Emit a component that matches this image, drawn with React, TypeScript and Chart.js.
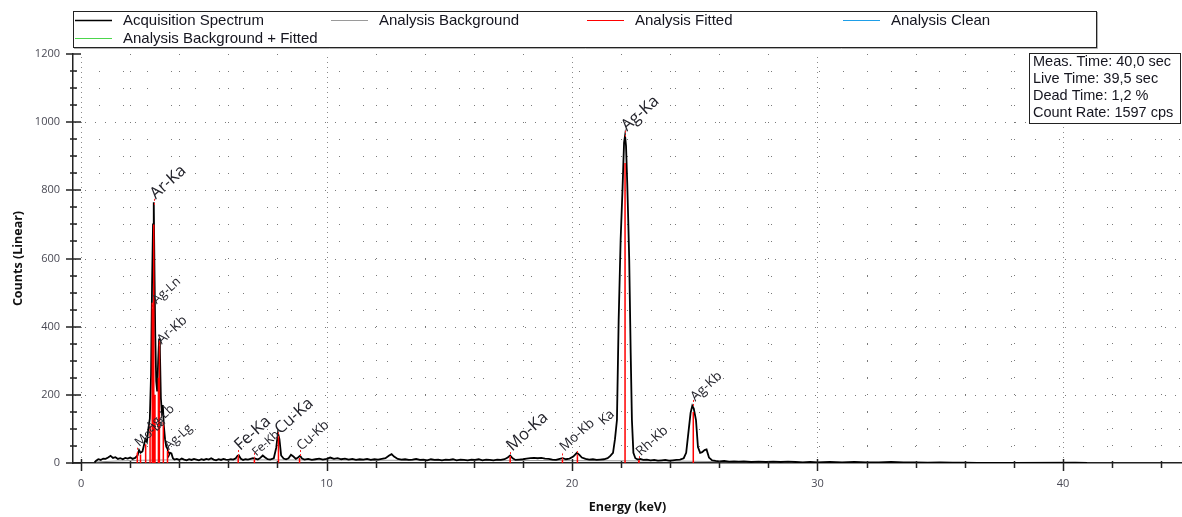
import React, { useEffect, useRef } from "react";
import { Chart, registerables } from "chart.js";

Chart.register(...registerables);

// ---- Data ----
const spectrum: [number, number][] = [
  [0.55, 2], [0.6, 6], [0.7, 11], [0.8, 9], [0.9, 13], [1.0, 12], [1.1, 16], [1.2, 21], [1.3, 15], [1.4, 17],
  [1.5, 12], [1.6, 14], [1.7, 11], [1.8, 15], [1.9, 13], [2.0, 16], [2.1, 12], [2.2, 15], [2.3, 22], [2.36, 38],
  [2.42, 30], [2.5, 34], [2.56, 52], [2.62, 70], [2.68, 62], [2.74, 100], [2.8, 130], [2.85, 260], [2.89, 520],
  [2.93, 700], [2.96, 765], [2.99, 560], [3.02, 380], [3.06, 240], [3.1, 210], [3.14, 300], [3.18, 365],
  [3.21, 330], [3.25, 190], [3.29, 150], [3.33, 170], [3.37, 110], [3.42, 70], [3.47, 48], [3.52, 42],
  [3.57, 22], [3.62, 30], [3.68, 28], [3.74, 14], [3.8, 10], [3.9, 12], [4.0, 9], [4.1, 13], [4.2, 10],
  [4.3, 8], [4.4, 11], [4.5, 9], [4.6, 12], [4.7, 10], [4.8, 8], [4.9, 11], [5.0, 9], [5.1, 12], [5.2, 10],
  [5.3, 14], [5.4, 10], [5.5, 8], [5.6, 11], [5.7, 9], [5.8, 12], [5.9, 10], [6.0, 9], [6.1, 11], [6.2, 10],
  [6.3, 14], [6.37, 21], [6.42, 23], [6.5, 13], [6.6, 9], [6.7, 11], [6.8, 10], [6.9, 12], [7.0, 14],
  [7.1, 13], [7.2, 10], [7.3, 15], [7.4, 22], [7.5, 16], [7.6, 11], [7.7, 10], [7.85, 14], [7.95, 45],
  [8.02, 88], [8.08, 70], [8.15, 22], [8.25, 13], [8.35, 11], [8.45, 14], [8.55, 24], [8.65, 19], [8.75, 12],
  [8.85, 17], [8.92, 21], [9.0, 13], [9.1, 10], [9.25, 12], [9.4, 9], [9.55, 11], [9.7, 13], [9.85, 10],
  [10.0, 12], [10.15, 16], [10.3, 12], [10.45, 14], [10.6, 11], [10.75, 13], [10.9, 10], [11.05, 12],
  [11.2, 9], [11.35, 11], [11.5, 10], [11.65, 12], [11.8, 9], [11.95, 11], [12.1, 10], [12.25, 12],
  [12.4, 14], [12.55, 22], [12.65, 26], [12.75, 19], [12.9, 12], [13.05, 10], [13.2, 11], [13.35, 9],
  [13.5, 10], [13.65, 12], [13.8, 9], [13.95, 10], [14.1, 8], [14.25, 11], [14.4, 9], [14.55, 10], [14.7, 8],
  [14.85, 10], [15.0, 9], [15.15, 11], [15.3, 8], [15.45, 10], [15.6, 9], [15.75, 8], [15.9, 10], [16.05, 9],
  [16.2, 11], [16.35, 8], [16.5, 10], [16.65, 9], [16.8, 8], [16.95, 10], [17.1, 9], [17.25, 11], [17.38, 16],
  [17.48, 22], [17.58, 14], [17.7, 9], [17.85, 10], [18.0, 11], [18.15, 13], [18.3, 14], [18.45, 15],
  [18.6, 14], [18.75, 15], [18.9, 13], [19.05, 12], [19.2, 10], [19.35, 9], [19.5, 12], [19.62, 14],
  [19.75, 11], [19.9, 13], [20.05, 19], [20.2, 30], [20.3, 24], [20.4, 16], [20.55, 12], [20.7, 10],
  [20.85, 11], [21.0, 9], [21.15, 10], [21.3, 11], [21.45, 14], [21.55, 20], [21.67, 30], [21.75, 70],
  [21.83, 126], [21.9, 420], [21.98, 654], [22.06, 810], [22.12, 940], [22.16, 960], [22.2, 930],
  [22.25, 820], [22.29, 713], [22.33, 596], [22.39, 323], [22.44, 126], [22.5, 30], [22.58, 14],
  [22.68, 10], [22.78, 12], [22.9, 9], [23.05, 10], [23.2, 8], [23.35, 9], [23.5, 7], [23.65, 8], [23.8, 9],
  [23.95, 7], [24.1, 8], [24.25, 9], [24.4, 10], [24.55, 14], [24.65, 30], [24.75, 95], [24.83, 147],
  [24.9, 168], [24.96, 160], [25.05, 126], [25.13, 47], [25.22, 30], [25.3, 32], [25.4, 38], [25.48, 40],
  [25.58, 16], [25.7, 8], [25.85, 6], [26.0, 5], [26.2, 6], [26.4, 4], [26.6, 5], [26.8, 4], [27.0, 5],
  [27.3, 3], [27.6, 4], [27.9, 3], [28.2, 4], [28.5, 3], [28.8, 4], [29.1, 3], [29.4, 2], [29.7, 3],
  [30.0, 2], [30.5, 3], [31.0, 2], [31.5, 3], [32.0, 2], [32.5, 2], [33.0, 3], [33.5, 2], [34.0, 2],
  [34.5, 1], [35.0, 2], [35.5, 1], [36.0, 1], [36.5, 0], [38.0, 0], [40.5, 1], [41.0, 0],
];

const backgroundKeV = [0.6, 1.5, 2.5, 3.5, 5, 8, 12, 16, 20, 24, 26, 30, 36, 41];
const backgroundCounts = [3, 6, 8, 9, 9, 9, 8, 8, 7, 6, 4, 2, 1, 0];

const fittedKeV = [2.29, 2.42, 2.63, 2.81, 2.9, 2.96, 3.01, 3.15, 3.19, 3.35, 3.52, 6.4, 7.06, 8.04, 8.9, 17.48, 19.61, 20.22, 22.16, 22.72, 24.94];
const fittedCounts = [30, 25, 55, 110, 470, 700, 200, 250, 355, 120, 35, 20, 10, 80, 15, 20, 10, 25, 880, 8, 150];

const peakNames = ["Ar-Ka", "Ag-Ln", "Ar-Kb", "Mo-La", "Ag-Lb", "Ag-Lg", "Fe-Ka", "Fe-Kb", "Cu-Ka", "Cu-Kb", "Mo-Ka", "Mo-Kb", "Ka", "Ag-Ka", "Rh-Kb", "Ag-Kb"];
const peakLabelKeV = [2.96, 3.0, 3.2, 2.29, 2.75, 3.5, 6.4, 7.06, 8.04, 8.9, 17.48, 19.61, 21.2, 22.16, 22.72, 24.94];
const peakLabelCounts = [775, 468, 350, 50, 95, 40, 38, 22, 86, 38, 36, 36, 112, 975, 22, 183];
const peakLabelSize = [16.5, 12.5, 13.5, 12.5, 12.5, 12.5, 16.5, 12, 16.5, 13.5, 16.5, 13.5, 13.5, 16.5, 13.5, 13.5];

const markerKeV = [2.29, 2.9, 2.96, 3.19, 3.52, 6.4, 7.06, 8.04, 8.9, 17.48, 19.61, 20.22, 22.16, 22.72, 24.94];
const markerCounts = [45, 470, 775, 360, 40, 38, 30, 90, 38, 32, 28, 35, 975, 20, 185];

const legendLabels = ["Acquisition Spectrum", "Analysis Background", "Analysis Fitted", "Analysis Clean", "Analysis Background + Fitted"];
const legendColors = ["#000000", "#9a9a9a", "#ff0000", "#1e9ee8", "#4cd64c"];

const infoLines = ["Meas. Time: 40,0 sec", "Live Time: 39,5 sec", "Dead Time: 1,2 %", "Count Rate: 1597 cps"];

const xMin = -0.33;
const xMax = 44.85;
const yMax = 1200;
const yMajor = 200;
const yMinor = 50;
const xMajor = 10;
const xMinor = 2;

const TICK_FONT = "'Open Sans', sans-serif";
const UI_FONT = "'Liberation Sans', Arial, sans-serif";

const gridPlugin = {
  id: "dotGrid",
  beforeDatasetsDraw(chart: any) {
    const { ctx, chartArea: a, scales } = chart;
    const x = scales.x, y = scales.y;
    ctx.save();
    ctx.beginPath();
    ctx.rect(a.left, a.top, a.right - a.left, a.bottom - a.top);
    ctx.clip();
    ctx.strokeStyle = "#7a7a7a";
    ctx.lineWidth = 1;
    for (let v = 0; v <= xMax; v += xMinor) {
      const major = v % xMajor === 0;
      const px = Math.round(x.getPixelForValue(v)) + 0.5;
      ctx.strokeStyle = major ? "#8a8a8a" : "#7a7a7a";
      ctx.setLineDash(major ? [1, 4] : [1, 16]);
      ctx.beginPath();
      ctx.moveTo(px, a.bottom);
      ctx.lineTo(px, a.top);
      ctx.stroke();
    }
    ctx.strokeStyle = "#7a7a7a";
    for (let v = yMinor; v < yMax; v += yMinor) {
      const major = v % yMajor === 0;
      const py = Math.round(y.getPixelForValue(v)) + 0.5;
      ctx.setLineDash(major ? [1, 9] : [1, 23]);
      ctx.beginPath();
      ctx.moveTo(a.left + 2, py);
      ctx.lineTo(a.right, py);
      ctx.stroke();
    }
    ctx.restore();
  },
};

const overlayPlugin = {
  id: "overlay",
  afterDraw(chart: any) {
    const { ctx, chartArea: a, scales } = chart;
    const x = scales.x, y = scales.y;
    ctx.save();

    // tick marks
    ctx.strokeStyle = "#222";
    ctx.lineWidth = 1.5;
    ctx.setLineDash([]);
    for (let v = 0; v <= yMax; v += yMinor) {
      const major = v % yMajor === 0;
      const py = Math.round(y.getPixelForValue(v));
      ctx.beginPath();
      ctx.moveTo(a.left - (major ? 7 : 3), py);
      ctx.lineTo(a.left + (major ? 8 : 4), py);
      ctx.stroke();
    }
    for (let v = 0; v <= xMax; v += xMinor) {
      const major = v % xMajor === 0;
      const px = Math.round(x.getPixelForValue(v)) + 0.5;
      ctx.beginPath();
      ctx.moveTo(px, a.bottom - (major ? 4 : 2));
      ctx.lineTo(px, a.bottom + (major ? 8 : 5));
      ctx.stroke();
    }

    // peak markers (red dotted)
    ctx.strokeStyle = "#ff2020";
    ctx.lineWidth = 1;
    ctx.setLineDash([2, 2]);
    for (let i = 0; i < markerKeV.length; i++) {
      const px = Math.round(x.getPixelForValue(markerKeV[i])) + 0.5;
      const py = y.getPixelForValue(markerCounts[i]);
      ctx.beginPath();
      ctx.moveTo(px, py);
      ctx.lineTo(px, py + 8);
      ctx.stroke();
    }
    ctx.setLineDash([]);

    // peak labels
    ctx.fillStyle = "#23232b";
    ctx.textAlign = "left";
    ctx.textBaseline = "alphabetic";
    for (let i = 0; i < peakNames.length; i++) {
      const px = x.getPixelForValue(peakLabelKeV[i]) + 2;
      const py = y.getPixelForValue(peakLabelCounts[i]) + 1;
      ctx.save();
      ctx.translate(px, py);
      ctx.rotate((-42 * Math.PI) / 180);
      ctx.font = `${peakLabelSize[i]}px ${TICK_FONT}`;
      ctx.fillText(peakNames[i], 0, 0);
      ctx.restore();
    }

    // legend box
    ctx.fillStyle = "#ffffff";
    ctx.fillRect(73, 11, 1023, 36);
    ctx.strokeStyle = "#b0b0b0";
    ctx.lineWidth = 1;
    ctx.beginPath();
    ctx.moveTo(74, 48.5);
    ctx.lineTo(1097.5, 48.5);
    ctx.lineTo(1097.5, 12);
    ctx.stroke();
    ctx.strokeStyle = "#222";
    ctx.strokeRect(73.5, 11.5, 1023, 36);
    const colX = [75, 331, 587, 843, 75];
    const rowY = [20, 20, 20, 20, 38];
    ctx.font = `15px ${UI_FONT}`;
    ctx.textBaseline = "middle";
    for (let i = 0; i < legendLabels.length; i++) {
      const lx = colX[i];
      const ly = rowY[i];
      ctx.strokeStyle = legendColors[i];
      ctx.lineWidth = i === 0 ? 1.5 : 1.2;
      ctx.beginPath();
      ctx.moveTo(lx, ly + 0.5);
      ctx.lineTo(lx + 37, ly + 0.5);
      ctx.stroke();
      ctx.fillStyle = "#15151f";
      ctx.fillText(legendLabels[i], lx + 48, ly + 1);
    }

    // info box
    ctx.fillStyle = "#ffffff";
    ctx.fillRect(1029, 53, 151, 70);
    ctx.strokeStyle = "#222";
    ctx.lineWidth = 1;
    ctx.strokeRect(1029.5, 53.5, 151, 70);
    ctx.fillStyle = "#15151f";
    ctx.font = `14.5px ${UI_FONT}`;
    infoLines.forEach((t, i) => ctx.fillText(t, 1033, 62 + i * 17));

    ctx.restore();
  },
};

export default function App() {
  const ref = useRef<HTMLCanvasElement | null>(null);

  useEffect(() => {
    const canvas = ref.current;
    if (!canvas) return;

    const fittedData: any[] = [];
    fittedKeV.forEach((k, i) => {
      fittedData.push({ x: k, y: 0 }, { x: k, y: fittedCounts[i] }, { x: k, y: null });
    });

    const chart = new Chart(canvas, {
      type: "line",
      data: {
        datasets: [
          {
            label: legendLabels[2],
            data: fittedData,
            borderColor: legendColors[2],
            borderWidth: 1.5,
            pointRadius: 0,
            spanGaps: false,
            order: 0,
          },
          {
            label: legendLabels[0],
            data: spectrum.map(([k, c]) => ({ x: k, y: c })),
            borderColor: legendColors[0],
            borderWidth: 1.8,
            pointRadius: 0,
            order: 1,
          },
          {
            label: legendLabels[1],
            data: backgroundKeV.map((k, i) => ({ x: k, y: backgroundCounts[i] })),
            borderColor: legendColors[1],
            borderWidth: 1,
            pointRadius: 0,
            order: 2,
          },
          { label: legendLabels[3], data: [], borderColor: legendColors[3], pointRadius: 0, order: 3 },
          { label: legendLabels[4], data: [], borderColor: legendColors[4], pointRadius: 0, order: 4 },
        ],
      },
      options: {
        animation: false,
        responsive: false,
        events: [],
        layout: { padding: { top: 54, left: 0, right: 0, bottom: 0 } },
        plugins: { legend: { display: false }, tooltip: { enabled: false } },
        scales: {
          x: {
            type: "linear",
            min: xMin,
            max: xMax,
            afterFit: (s: any) => {
              s.height = 54;
            },
            grid: { display: false, drawTicks: false },
            border: { display: true, color: "#222", width: 1.5 },
            ticks: {
              stepSize: xMajor,
              includeBounds: false,
              padding: 14,
              maxRotation: 0,
              autoSkip: false,
              color: "#4a4a55",
              font: { family: TICK_FONT, size: 11 },
              callback: (v: any) => String(v),
            },
            title: {
              display: true,
              text: "Energy (keV)",
              color: "#111",
              font: { family: TICK_FONT, size: 12.5, weight: "bold" },
              padding: { top: 0, bottom: 2.5 },
            },
          },
          y: {
            type: "linear",
            min: 0,
            max: yMax,
            afterFit: (s: any) => {
              s.width = 73;
            },
            grid: { display: false, drawTicks: false },
            border: { display: true, color: "#222", width: 1.5 },
            ticks: {
              stepSize: yMajor,
              padding: 13,
              color: "#4a4a55",
              font: { family: TICK_FONT, size: 11 },
              callback: (v: any) => String(v),
            },
            title: {
              display: true,
              text: "Counts (Linear)",
              color: "#111",
              font: { family: TICK_FONT, size: 12.5, weight: "bold" },
              padding: { top: 10.5, bottom: 0 },
            },
          },
        },
      },
      plugins: [gridPlugin, overlayPlugin],
    } as any);

    return () => chart.destroy();
  }, []);

  return (
    <div style={{ position: "absolute", left: 0, top: 0, width: 1182, height: 517, background: "#fff" }}>
      <canvas ref={ref} width={1182} height={517} style={{ display: "block" }} />
    </div>
  );
}
